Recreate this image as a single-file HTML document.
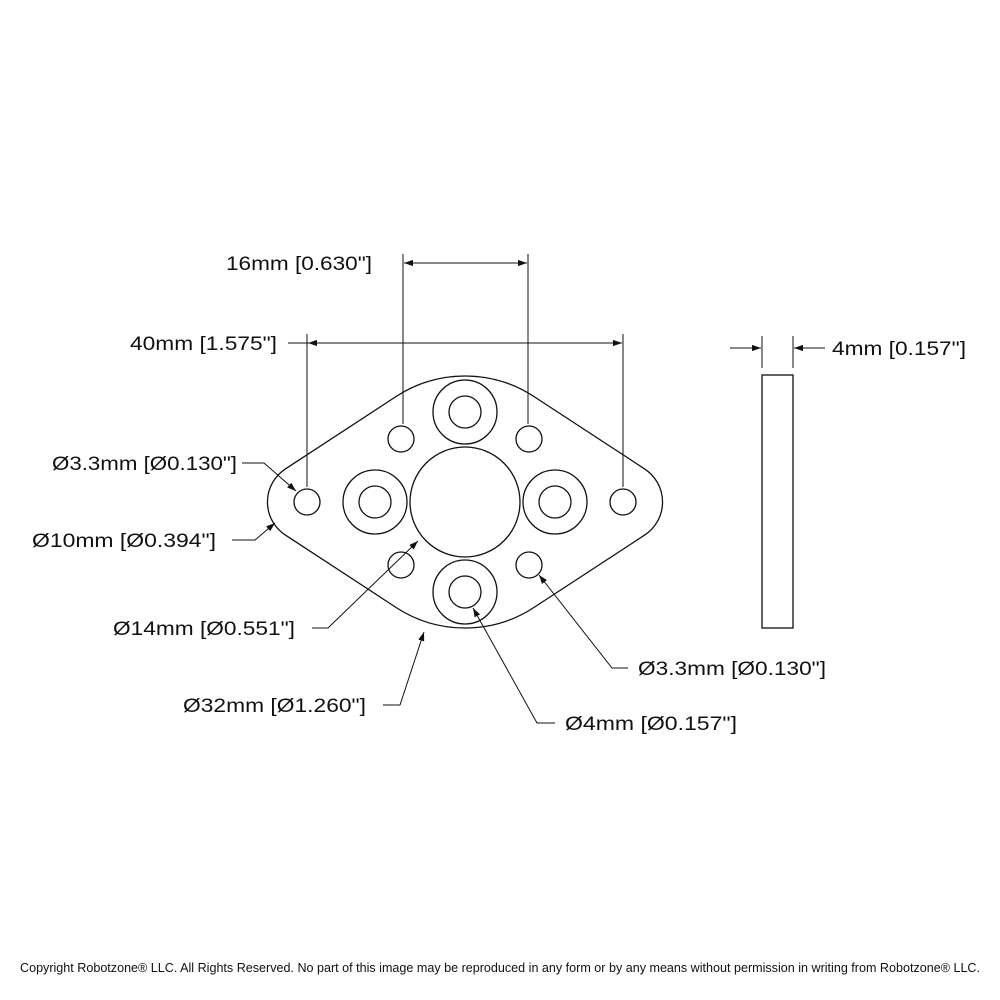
<!DOCTYPE html>
<html><head><meta charset="utf-8"><style>
html,body{margin:0;padding:0;background:#fff;}
svg{display:block;}
text{font-family:"Liberation Sans",sans-serif;fill:#111;}
</style></head><body>
<svg width="1000" height="1000" viewBox="0 0 1000 1000" xmlns="http://www.w3.org/2000/svg">
<defs>
<marker id="a" viewBox="0 0 10 10" refX="10" refY="5" markerWidth="9" markerHeight="9" orient="auto-start-reverse" markerUnits="userSpaceOnUse">
<path d="M0,1.5 L10,5 L0,8.5 Z" fill="#111"/></marker>
</defs>
<g fill="none" stroke="#111" stroke-width="1.3">
<path d="M285.4,468.9 L396.1,396.5 A126,126 0 0 1 533.9,396.5 L644.6,468.9 A39.5,39.5 0 0 1 644.6,535.1 L533.9,607.5 A126,126 0 0 1 396.1,607.5 L285.4,535.1 A39.5,39.5 0 0 1 285.4,468.9 Z"/>
<circle cx="465" cy="502" r="55"/>
<circle cx="465" cy="412" r="32"/><circle cx="465" cy="412" r="16"/>
<circle cx="375" cy="502" r="32"/><circle cx="375" cy="502" r="16"/>
<circle cx="555" cy="502" r="32"/><circle cx="555" cy="502" r="16"/>
<circle cx="465" cy="592" r="32"/><circle cx="465" cy="592" r="16"/>
<circle cx="401" cy="439" r="13"/><circle cx="529" cy="439" r="13"/>
<circle cx="401" cy="565" r="13"/><circle cx="529" cy="565" r="13"/>
<circle cx="307" cy="502" r="13"/><circle cx="623" cy="502" r="13"/>
<rect x="762" y="375" width="31" height="253"/>
</g>
<g fill="none" stroke="#111" stroke-width="1">
<line x1="403" y1="254" x2="403" y2="424"/><line x1="528" y1="254" x2="528" y2="424"/>
<line x1="404" y1="263" x2="527" y2="263" marker-start="url(#a)" marker-end="url(#a)"/>
<line x1="307" y1="334" x2="307" y2="487"/><line x1="623" y1="334" x2="623" y2="487"/>
<line x1="288" y1="343" x2="622" y2="343" marker-end="url(#a)"/>
<line x1="308" y1="343" x2="330" y2="343" marker-start="url(#a)"/>
<line x1="762" y1="336" x2="762" y2="368"/><line x1="793" y1="336" x2="793" y2="368"/>
<line x1="730" y1="348" x2="761" y2="348" marker-end="url(#a)"/>
<line x1="825" y1="348" x2="794" y2="348" marker-end="url(#a)"/>
<polyline points="242,463 264,463 296,491" marker-end="url(#a)"/>
<polyline points="232,540 255,540 275,523" marker-end="url(#a)"/>
<polyline points="312,628 328,628 418,541" marker-end="url(#a)"/>
<polyline points="383,705 400,705 424,632" marker-end="url(#a)"/>
<polyline points="628,668 612,668 539,575" marker-end="url(#a)"/>
<polyline points="555,723 537,723 473,608" marker-end="url(#a)"/>
</g>
<g font-size="19" lengthAdjust="spacingAndGlyphs">
<text x="226" y="270" textLength="146" lengthAdjust="spacingAndGlyphs">16mm [0.630"]</text>
<text x="130" y="350" textLength="147" lengthAdjust="spacingAndGlyphs">40mm [1.575"]</text>
<text x="832" y="355" textLength="134" lengthAdjust="spacingAndGlyphs">4mm [0.157"]</text>
<text x="52" y="470" textLength="185" lengthAdjust="spacingAndGlyphs">Ø3.3mm [Ø0.130"]</text>
<text x="32" y="547" textLength="184" lengthAdjust="spacingAndGlyphs">Ø10mm [Ø0.394"]</text>
<text x="113" y="635" textLength="182" lengthAdjust="spacingAndGlyphs">Ø14mm [Ø0.551"]</text>
<text x="183" y="712" textLength="183" lengthAdjust="spacingAndGlyphs">Ø32mm [Ø1.260"]</text>
<text x="638" y="675" textLength="188" lengthAdjust="spacingAndGlyphs">Ø3.3mm [Ø0.130"]</text>
<text x="565" y="730" textLength="172" lengthAdjust="spacingAndGlyphs">Ø4mm [Ø0.157"]</text>
</g>
<text x="20" y="972" font-size="13" textLength="960" lengthAdjust="spacingAndGlyphs">Copyright Robotzone® LLC.  All Rights Reserved. No part of this image may be reproduced in any form or by any means without permission in writing from Robotzone® LLC.</text>
</svg>
</body></html>
